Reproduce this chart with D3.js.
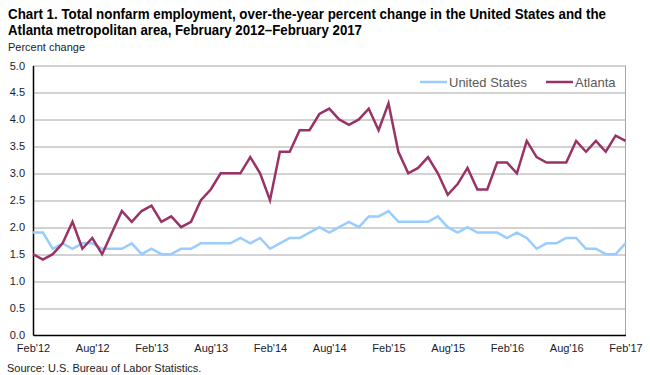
<!DOCTYPE html>
<html>
<head>
<meta charset="utf-8">
<script src="https://cdn.jsdelivr.net/npm/d3@7"></script>
<style>
    body { margin: 0; background: #fff; }
    text { font-family: "Liberation Sans", Arial, sans-serif; }
</style>
</head>
<body>
<script>
// Over-the-year percent change, Feb 2012 .. Feb 2017 (monthly)
const unitedStates = [
    1.9, 1.9, 1.6, 1.7, 1.6, 1.7, 1.7, 1.6, 1.6, 1.6, 1.7, 1.5,
    1.6, 1.5, 1.5, 1.6, 1.6, 1.7, 1.7, 1.7, 1.7, 1.8, 1.7, 1.8,
    1.6, 1.7, 1.8, 1.8, 1.9, 2.0, 1.9, 2.0, 2.1, 2.0, 2.2, 2.2,
    2.3, 2.1, 2.1, 2.1, 2.1, 2.2, 2.0, 1.9, 2.0, 1.9, 1.9, 1.9,
    1.8, 1.9, 1.8, 1.6, 1.7, 1.7, 1.8, 1.8, 1.6, 1.6, 1.5, 1.5,
    1.7
];
const atlanta = [
    1.5, 1.4, 1.5, 1.7, 2.1, 1.6, 1.8, 1.5, 1.9, 2.3, 2.1, 2.3,
    2.4, 2.1, 2.2, 2.0, 2.1, 2.5, 2.7, 3.0, 3.0, 3.0, 3.3, 3.0,
    2.5, 3.4, 3.4, 3.8, 3.8, 4.1, 4.2, 4.0, 3.9, 4.0, 4.2, 3.8,
    4.3, 3.4, 3.0, 3.1, 3.3, 3.0, 2.6, 2.8, 3.1, 2.7, 2.7, 3.2,
    3.2, 3.0, 3.6, 3.3, 3.2, 3.2, 3.2, 3.6, 3.4, 3.6, 3.4, 3.7,
    3.6
];
const xTickLabels = ["Feb'12", "Aug'12", "Feb'13", "Aug'13", "Feb'14", "Aug'14",
                     "Feb'15", "Aug'15", "Feb'16", "Aug'16", "Feb'17"];
const yTicks = [0, 0.5, 1, 1.5, 2, 2.5, 3, 3.5, 4, 4.5, 5];
const seriesNames = ["United States", "Atlanta"];
const seriesColors = ["#99ccff", "#993366"];

const startMonth = new Date(2012, 1, 1);
const endMonth = new Date(2017, 1, 1);
const months = d3.timeMonth.range(startMonth, d3.timeMonth.offset(endMonth, 1));

const W = 650, H = 375;
const margin = {left: 33, top: 65.5, right: 24.5, bottom: 40};
const width = W - margin.left - margin.right;
const height = H - margin.top - margin.bottom;

const svg = d3.select("body").append("svg")
    .attr('width', W)
    .attr('height', H);

// Title
const title = ["Chart 1. Total nonfarm employment, over-the-year percent change in the United States and the",
               "Atlanta metropolitan area, February 2012\u2013February  2017"];
const titleWidths = [598, 354];
title.forEach((t, i) => {
    svg.append("text")
        .attr('x', 8)
        .attr('y', 19 + i * 16)
        .attr('font-size', '14px')
        .attr('font-weight', 'bold')
        .attr('fill', '#000')
        .attr('textLength', titleWidths[i])
        .attr('lengthAdjust', 'spacingAndGlyphs')
        .style('font-family', '"Liberation Sans Narrow", "Liberation Sans", Arial, sans-serif')
        .text(t);
});

svg.append("text")
    .attr('x', 8)
    .attr('y', 51)
    .attr('font-size', '11px')
    .attr('fill', '#222')
    .text("Percent change");

const g = svg.append("g")
    .attr('transform', `translate(${margin.left}, ${margin.top})`);

// Scales (months evenly spaced, like the original category axis)
const x = d3.scalePoint()
    .domain(months)
    .range([0, width]);

const y = d3.scaleLinear()
    .domain([0, 5])
    .range([height, 0]);

// Gridlines
g.append("g")
    .attr('class', 'grid')
    .selectAll("line")
    .data(yTicks.filter((d) => d > 0))
    .enter().append("line")
        .attr('x1', 0)
        .attr('x2', width)
        .attr('y1', (d) => Math.round(y(d)) + 0.5)
        .attr('y2', (d) => Math.round(y(d)) + 0.5)
        .attr('stroke', '#a6a6a6')
        .attr('stroke-width', 1);

// Right border
g.append("line")
    .attr('x1', width).attr('x2', width)
    .attr('y1', 0).attr('y2', height)
    .attr('stroke', '#a6a6a6');

// Y axis
const yAxis = g.append("g")
    .attr('class', 'left axis')
    .call(d3.axisLeft(y).tickValues(yTicks).tickSize(0).tickPadding(8).tickFormat(d3.format(".1f")));
yAxis.select(".domain").attr('stroke', '#000').attr('stroke-width', 1.5);
yAxis.selectAll("text")
    .attr('font-size', '11px')
    .style('font-family', '"Liberation Sans", Arial, sans-serif')
    .attr('fill', '#1a1a2a');

// X axis: one tick every six months, starting Feb 2012
const tickDates = months.filter((d, i) => i % 6 === 0);
const xAxis = g.append("g")
    .attr('class', 'bottom axis')
    .attr('transform', `translate(0, ${height})`)
    .call(d3.axisBottom(x).tickValues(tickDates).tickSize(0).tickPadding(9)
        .tickFormat((d, i) => xTickLabels[i]));
xAxis.select(".domain").attr('stroke', '#000').attr('stroke-width', 1.5);
xAxis.selectAll("text")
    .attr('font-size', '11px')
    .style('font-family', '"Liberation Sans", Arial, sans-serif')
    .attr('fill', '#1a1a2a');

// Lines
const line = d3.line()
    .x((d, i) => x(months[i]))
    .y((d) => y(d));

[unitedStates, atlanta].forEach((values, k) => {
    g.append("path")
        .datum(values)
        .attr('d', line)
        .attr('fill', 'none')
        .attr('stroke', seriesColors[k])
        .attr('stroke-width', 2.5)
        .attr('stroke-linejoin', 'miter');
});

// Legend
const legendX = [420, 546];
seriesNames.forEach((name, k) => {
    svg.append("line")
        .attr('x1', legendX[k]).attr('x2', legendX[k] + 27)
        .attr('y1', 82).attr('y2', 82)
        .attr('stroke', seriesColors[k])
        .attr('stroke-width', 2.5);
    svg.append("text")
        .attr('x', legendX[k] + 29)
        .attr('y', 87)
        .attr('font-size', '13px')
        .attr('fill', '#595959')
        .text(name);
});

// Source
svg.append("text")
    .attr('x', 7)
    .attr('y', 372)
    .attr('font-size', '11px')
    .attr('fill', '#222')
    .text("Source: U.S. Bureau of Labor Statistics.");
</script>
</body>
</html>
